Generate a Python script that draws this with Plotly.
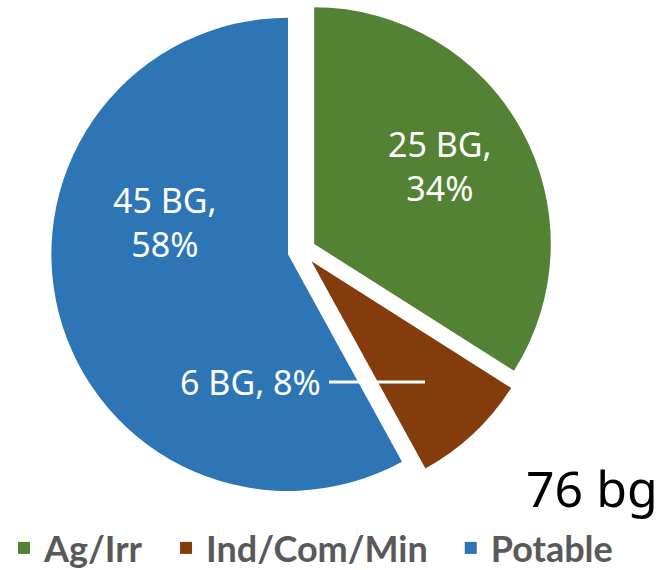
import plotly.graph_objects as go

categories = ["Ag/Irr", "Ind/Com/Min", "Potable"]
pct_values = [34, 8, 58]
bg_values = [25, 6, 45]
colors = ["#548235", "#843C0C", "#2E75B6"]
total_label = "76 bg"

W, H = 661, 570

# legend entries get a trailing en-space to widen spacing between items
legend_labels = [c + "\u2002" for c in categories]

fig = go.Figure(go.Pie(
    labels=legend_labels,
    values=pct_values,
    sort=False,
    direction="clockwise",
    rotation=0,
    pull=[0.06, 0.06, 0.06],
    marker=dict(colors=colors, line=dict(width=0)),
    textinfo="none",
    hoverinfo="label+value",
    domain=dict(x=[0.077, 0.836], y=[0.12, 1.0]),
    showlegend=True,
))

lab = [f"{b} BG,<br>{p}%" for b, p in zip(bg_values, pct_values)]
lab_font = dict(family="Noto Sans", size=34, color="white")

common = dict(xref="paper", yref="paper", xanchor="center", yanchor="middle")
# Ag/Irr label
fig.add_annotation(x=440 / W, y=1 - 166 / H, text=lab[0], showarrow=False,
                   font=lab_font, align="center", **common)
# Potable label
fig.add_annotation(x=165 / W, y=1 - 222 / H, text=lab[2], showarrow=False,
                   font=lab_font, align="center", **common)
# Ind/Com/Min label with leader line
fig.add_annotation(x=425 / W, y=1 - 382 / H, xref="paper", yref="paper",
                   text=f"{bg_values[1]} BG, {pct_values[1]}%", showarrow=True,
                   ax=-174, ay=0, arrowhead=0, arrowwidth=3, arrowcolor="white",
                   standoff=0, startstandoff=6,
                   font=lab_font)
# total
fig.add_annotation(x=592 / W, y=1 - 488 / H, text=total_label, showarrow=False,
                   font=dict(family="Noto Sans", size=50, color="black"), **common)

fig.update_layout(
    width=W, height=H,
    margin=dict(l=0, r=0, t=0, b=0, autoexpand=False),
    paper_bgcolor="white",
    plot_bgcolor="white",
    legend=dict(orientation="h", x=4 / W, xanchor="left", y=1 - 548 / H, yanchor="middle",
                font=dict(family="Lato", size=36, color="#595959", weight="bold"),
                itemsizing="constant", bgcolor="rgba(0,0,0,0)", tracegroupgap=0),
)

fig.write_html("out.html", config={"displayModeBar": False},
               post_script="document.body.style.margin='0';")
